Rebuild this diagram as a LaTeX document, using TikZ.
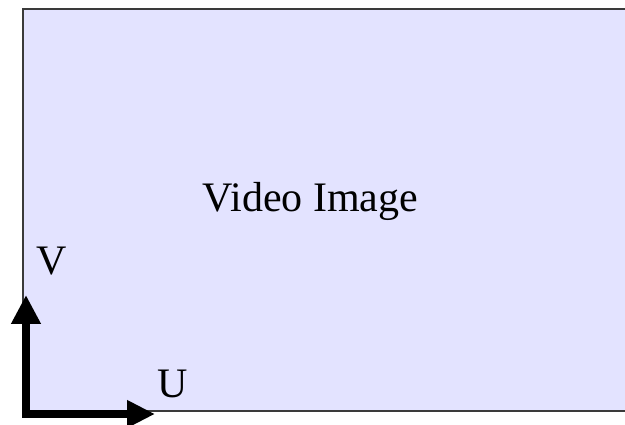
\documentclass[tikz,border=0pt]{standalone}
\usepackage{fontspec}
\setmainfont{Liberation Serif}
\usetikzlibrary{arrows.meta}
\definecolor{imgfill}{HTML}{E3E3FF}
\definecolor{imgborder}{HTML}{3A3A3A}
\begin{document}
\begin{tikzpicture}[x=1pt,y=-1pt,
  lbl/.style={anchor=base,inner sep=0pt,font=\fontsize{42}{50}\selectfont},
  axis/.style={line width=8pt,line join=miter,{Triangle[length=29pt,width=28pt]}-{Triangle[length=28pt,width=26pt]}}]
\useasboundingbox (0,0) rectangle (625,425);
\fill[imgfill] (23,9) rectangle (625,411);
\draw[imgborder,line width=1.5pt] (625,9) -- (23,9) -- (23,411) -- (625,411);
\node[lbl] (title) at (310.5,212) {Video Image};
\node[lbl] (vlab) at (51.5,275) {V};
\node[lbl] (ulab) at (173,398) {U};
\coordinate (vtip) at (26,295);
\coordinate (corner) at (26,414);
\coordinate (utip) at (155,414);
\draw[axis] (vtip) -- (corner) -- (utip);
\end{tikzpicture}
\end{document}
